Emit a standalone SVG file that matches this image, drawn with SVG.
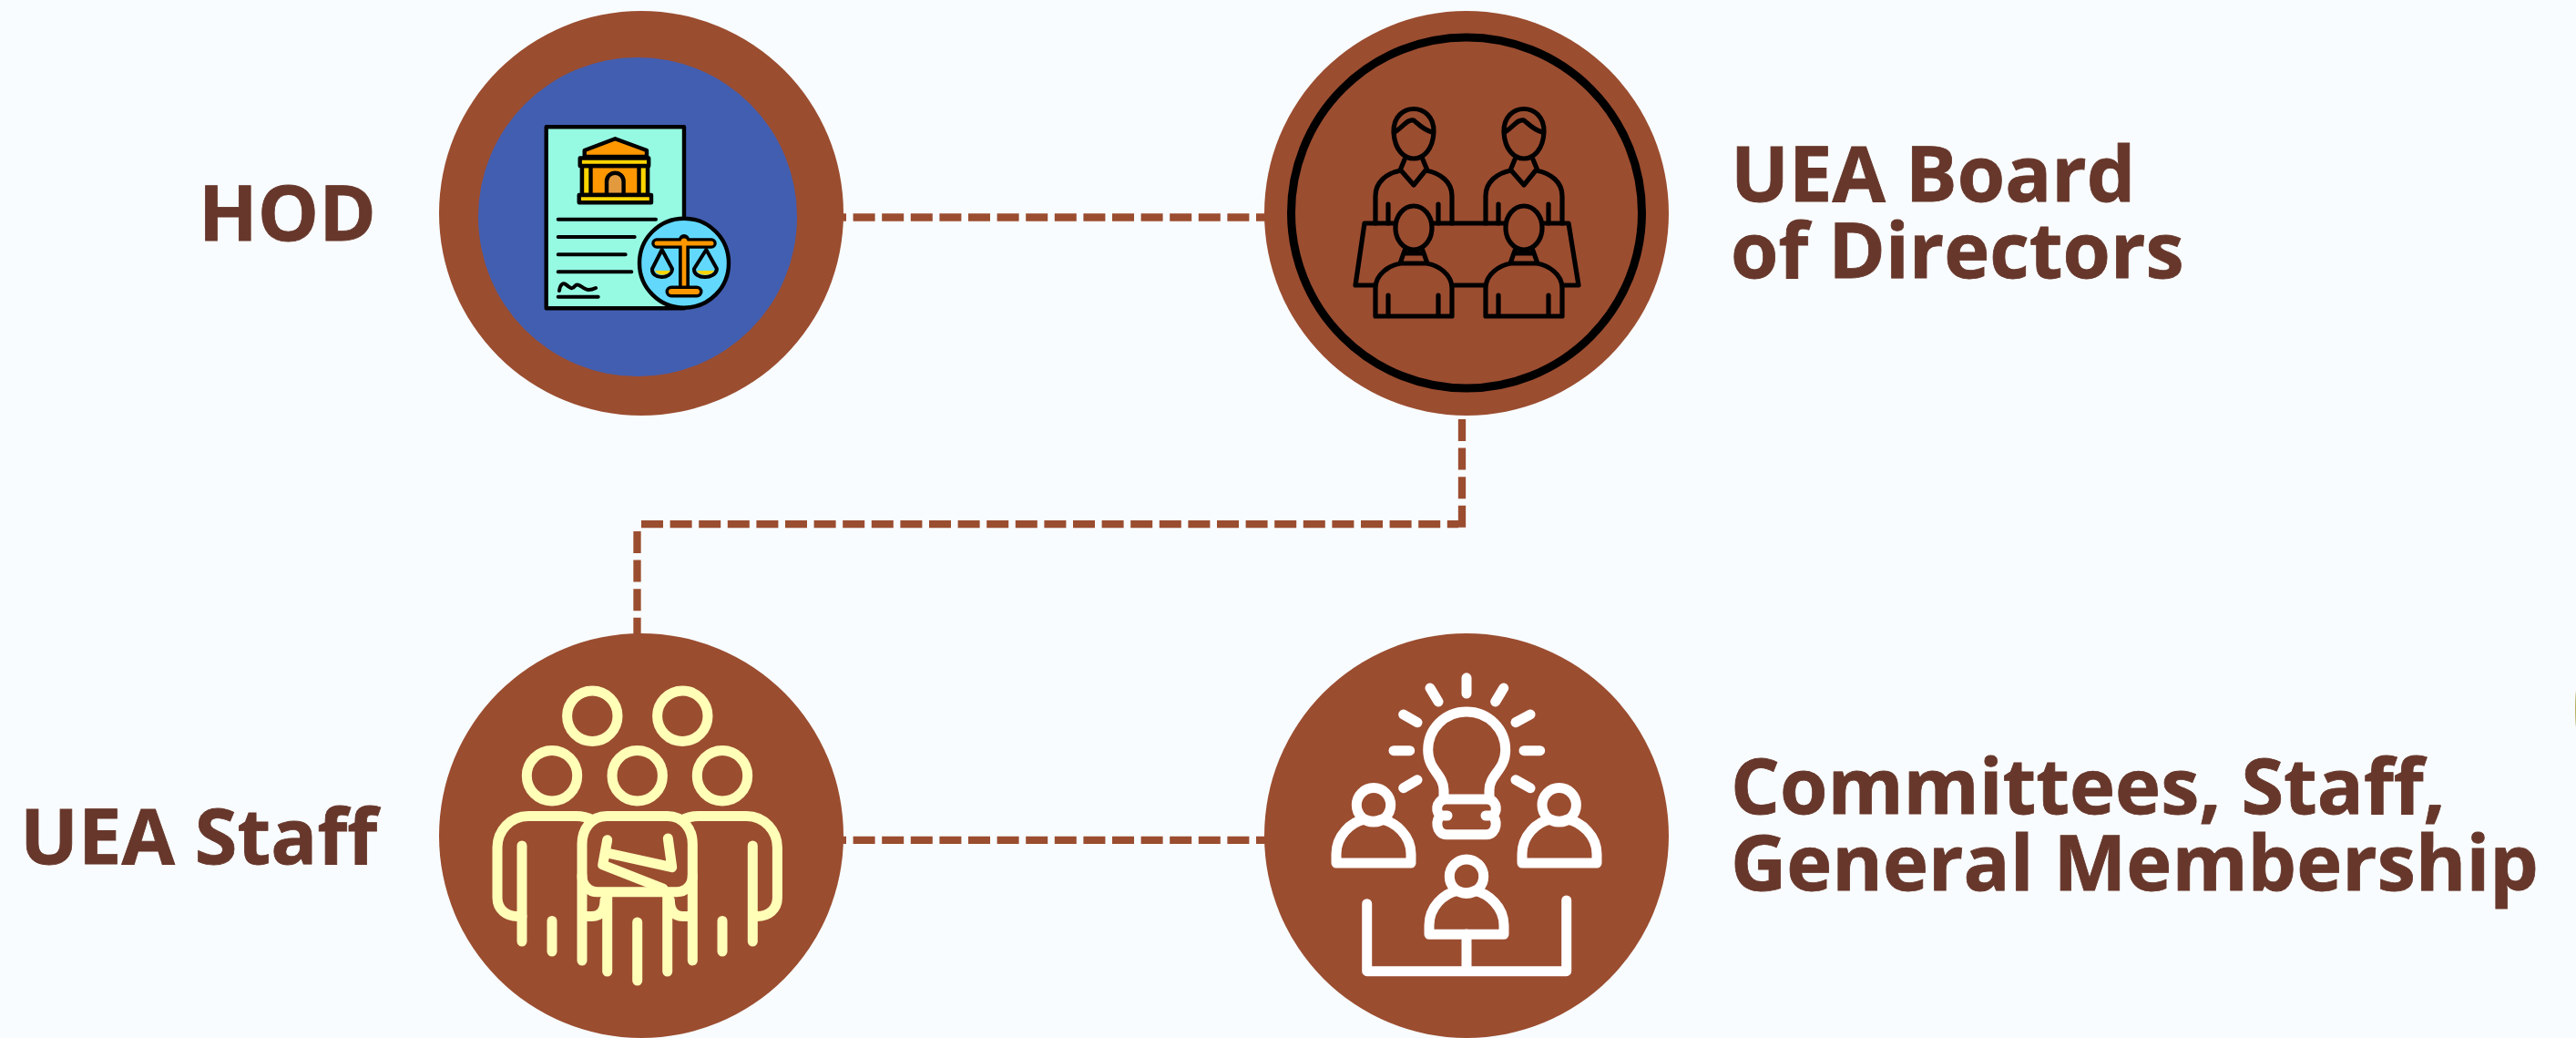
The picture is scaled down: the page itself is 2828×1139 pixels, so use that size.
<svg xmlns="http://www.w3.org/2000/svg" width="2828" height="1139" viewBox="0 0 2828 1139">
<style>
.bg{fill:#f8fcff}
.disc{fill:#9b4d30}
.lbl{font-family:"Open Sans","Noto Sans",sans-serif;font-weight:700;font-size:84.7px;fill:#67372b;stroke:#67372b;stroke-width:0.8}
.c{fill:none;stroke:#9b4d30;stroke-width:8.3;stroke-dasharray:24 7.6}
.k{fill:none;stroke:#000;stroke-width:5.2;stroke-linecap:round;stroke-linejoin:round}
.y{fill:none;stroke:#ffffb8;stroke-width:11;stroke-linecap:round;stroke-linejoin:round}
.w{fill:none;stroke:#fff;stroke-width:11;stroke-linecap:round;stroke-linejoin:round}
.o{stroke:#000;stroke-width:4.4;stroke-linejoin:round;stroke-linecap:round}
</style>
<defs>
<g id="back" class="k">
<path d="M-42 245V215C-42 200-30 190-14 187L0 203L13 187C30 190 42 200 42 215V245M-28 224V245M27 224V245M-10 175L-15 187M10 175L15 187"/>
<path d="M-22 145C-23 111 23 111 22 145C21 165 10 174 0 174C-10 174-21 165-22 145ZM-21 145C-12 140-7 130 0 132C5 136 10 142 20 145"/>
</g>
<g id="front" class="k">
<ellipse cx="0" cy="250" rx="20" ry="24"/>
<path d="M-42 347V316C-42 301-27 291-14 289H14C27 291 42 301 42 316V347ZM-28 324V347M27 324V347M-10 275L-15 289M10 275L15 289M-8 278H8"/>
</g>
<path id="mate" d="M-42 27V17C-42-3-26-18-11-21C-5-18 2-18 8-21C23-18 40-3 40 17V27Z"/>
</defs>
<rect class="bg" width="2828" height="1139"/>
<ellipse cx="2829" cy="778" rx="2" ry="23" fill="#b5ad5c"/>
<g id="connectors">
<path class="c" d="M905 238.5H1390"/>
<path class="c" d="M704 575.2H1601"/>
<path class="c" d="M1605 460V580"/>
<path class="c" d="M699.5 583V700"/>
<path class="c" d="M905 921.8H1390"/>
</g>
<g id="hod">
<circle class="disc" cx="704" cy="234" r="222"/>
<circle cx="700" cy="238" r="175" fill="#425eb0"/>
<rect class="o" x="599.7" y="139.3" width="151.3" height="199" fill="#96fae3"/>
<path class="o" d="M641.7 172V165L675.3 152.3L710 165V172Z" fill="#ff9800"/>
<rect class="o" x="639" y="182" width="72" height="32" fill="#ff9800"/>
<path class="o" d="M639 182h9.5v32H639zM701.5 182h9.5v32h-9.5z" fill="#ffd500"/>
<rect class="o" x="636.7" y="173.5" width="75.5" height="8.5" fill="#ffd500"/>
<path class="o" d="M666 214V199a9.3 9.3 0 0 1 18.6 0V214Z" fill="#e39a3e"/>
<rect class="o" x="635.7" y="214" width="79.3" height="8.3" fill="#ffd500"/>
<path d="M612.7 240.7H720M612.7 260H696.7M612.7 279.3H686.7M612.7 298.3H693.3M612.7 325.7H656.7M614 319C615 312 618 310 621 312C626 316 628 318 631 314C635 309 640 318 646 318C650 318 652 317 654 316" fill="none" stroke="#000" stroke-width="4" stroke-linecap="round"/>
<circle class="o" cx="751" cy="288.7" r="49" fill="#62d9fc"/>
<path d="M745 316V272H757V316Z" fill="#000"/>
<path d="M721 267H781" stroke="#000" stroke-width="11.5" stroke-linecap="round"/>
<circle cx="751" cy="263" r="6" fill="#000"/>
<path d="M721 267H781" stroke="#ff9800" stroke-width="5" stroke-linecap="round"/>
<circle cx="751" cy="265" r="3.5" fill="#ff9800"/>
<path d="M751 266V316" stroke="#ff9800" stroke-width="4.7"/>
<path d="M737 320H765" stroke="#000" stroke-width="13" stroke-linecap="round"/>
<path d="M737 320H765" stroke="#ff9800" stroke-width="6" stroke-linecap="round"/>
<path d="M726.7 274L716 295C715 307 737 307 738 295Z M775.3 274L762 295C761 307 786 307 787 295Z" fill="#62d9fc" stroke="#000" stroke-width="4" stroke-linejoin="round"/>
<path d="M719 297H736C733 303 722 303 719 297ZM765 297H784C781 303 768 303 765 297Z" fill="#ffd500"/>
</g>
<g id="board">
<circle class="disc" cx="1610" cy="234" r="222"/>
<circle cx="1610" cy="233.5" r="192.5" fill="none" stroke="#000" stroke-width="9"/>
<g class="k">
<path d="M1508 313H1488L1498 245H1530M1573 245H1652M1695 245H1722L1733 313H1717M1597 313H1630"/>
</g>
<use href="#back" x="1552"/><use href="#back" x="1673"/>
<use href="#front" x="1552"/><use href="#front" x="1673"/>
</g>
<g id="staff">
<circle class="disc" cx="704" cy="917" r="222"/>
<g class="y">
<circle cx="650.3" cy="785.7" r="27.7"/><circle cx="749.3" cy="785.7" r="27.7"/>
<circle cx="606" cy="851.3" r="27.7"/><circle cx="699.7" cy="851.3" r="27.7"/><circle cx="793" cy="851.3" r="27.7"/>
<path d="M651 900C645 897 640 895.5 633 895.5H580C560 895.5 546 912 546 930V985C546 998 556 1005.5 568 1005.5H573"/>
<path d="M748.4 900C754.4 897 759.4 895.5 766.4 895.5H819.4C839.4 895.5 853.4 912 853.4 930V985C853.4 998 843.4 1005.5 831.4 1005.5H826.4"/>
<path d="M666 895.5H733C750 895.5 760.3 910 760.3 926V961C760.3 971 753 978.7 743 978.7H656C646 978.7 639 971 639 961V926C639 910 649 895.5 666 895.5Z"/>
<path d="M573 928V1033M606 1010.5V1044M639 961V1054M666.7 983V1066M699.7 1012V1076M732.7 983V1066M760.3 961V1054M826.3 928V1033M793 1010.5V1044"/>
<path d="M666.7 921.7L661.7 949L728 975M733.3 920L737.7 951.7L666.7 936"/>
<path d="M644 1005.5H650C660 1005.5 664 998 664 988M755.4 1005.5H749.4C739.4 1005.5 735.4 998 735.4 988"/>
</g>
</g>
<g id="committees">
<circle class="disc" cx="1610" cy="917" r="222"/>
<g class="w">
<path d="M1610 743.8V761M1570 755L1579 770M1650.7 755L1641.7 770M1540.7 784L1556 792.7M1680 784L1664 792.7M1530 823.7H1547.7M1673 823.7H1690.7M1540.7 864.7L1556 855.7M1680 864.7L1664 855.7"/>
<path d="M1585 877V867C1585 850 1567.7 845 1567.7 823C1567.7 800 1586 781 1610 781C1634 781 1652.7 800 1652.7 823C1652.7 845 1635 850 1635 867V877"/>
<path d="M1586 877H1634C1644 879 1645 893 1637 895H1631H1637C1645 897 1644 915.7 1632 915.7H1588C1576 915.7 1575 897 1583 895H1589H1583C1575 893 1576 879 1586 877Z"/>
<circle cx="1508" cy="883.3" r="18.7"/><circle cx="1711.7" cy="883.3" r="18.7"/><circle cx="1610" cy="961.7" r="18.7"/>
<use href="#mate" x="1509" y="920"/>
<use href="#mate" x="1713" y="920"/>
<use href="#mate" x="1611" y="998.3"/>
<path d="M1500.7 991.7V1065.7H1719.7V988M1610 1025V1065.7"/>
</g>
</g>
<text class="lbl" x="218" y="264">HOD</text>
<text class="lbl" x="1900" y="221">UEA Board</text>
<text class="lbl" x="1900" y="305">of Directors</text>
<text class="lbl" x="22" y="948">UEA Staff</text>
<text class="lbl" x="1900" y="892.7">Committees, Staff,</text>
<text class="lbl" x="1900" y="976.7">General Membership</text>
</svg>
